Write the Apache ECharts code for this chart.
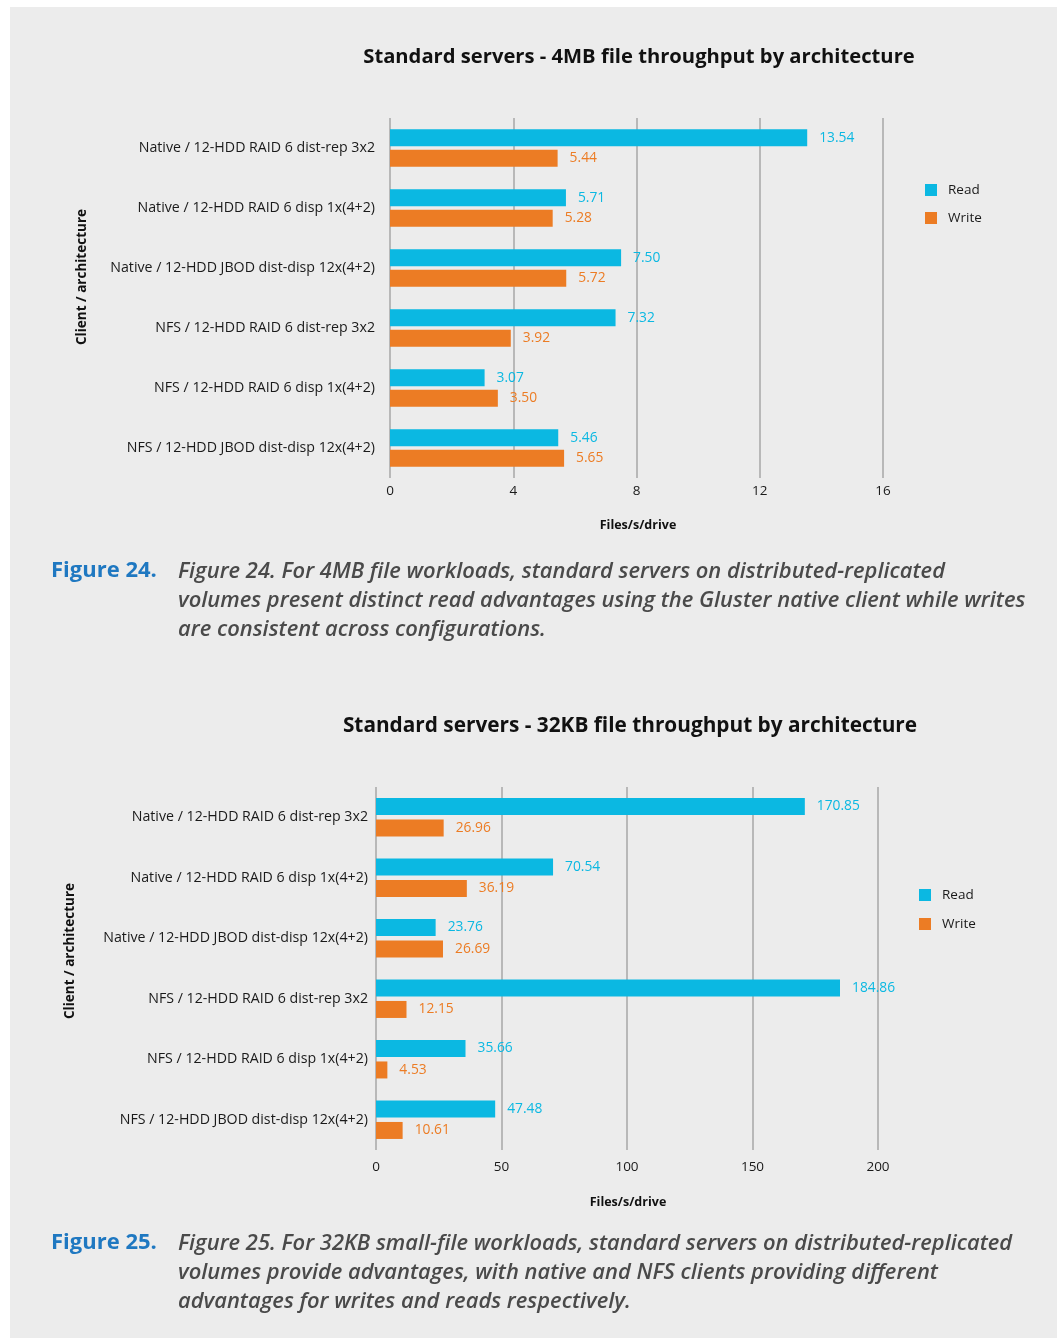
<!DOCTYPE html>
<html>
<head>
<meta charset="utf-8">
<script src="https://cdn.jsdelivr.net/npm/echarts@6/dist/echarts.min.js"></script>
<style>
html,body{margin:0;padding:0;background:#fff;}
#c{width:1057px;height:1338px;}
</style>
</head>
<body>
<div id="c"></div>
<script>
// ---- data ----
const categories = [
  'Native / 12-HDD RAID 6 dist-rep 3x2',
  'Native / 12-HDD RAID 6 disp 1x(4+2)',
  'Native / 12-HDD JBOD dist-disp 12x(4+2)',
  'NFS / 12-HDD RAID 6 dist-rep 3x2',
  'NFS / 12-HDD RAID 6 disp 1x(4+2)',
  'NFS / 12-HDD JBOD dist-disp 12x(4+2)'
];
const read4MB  = [13.54, 5.71, 7.50, 7.32, 3.07, 5.46];
const write4MB = [5.44, 5.28, 5.72, 3.92, 3.50, 5.65];
const read32KB  = [170.85, 70.54, 23.76, 184.86, 35.66, 47.48];
const write32KB = [26.96, 36.19, 26.69, 12.15, 4.53, 10.61];
const ticks4MB = [0, 4, 8, 12, 16];
const ticks32KB = [0, 50, 100, 150, 200];
const title1 = 'Standard servers - 4MB file throughput by architecture';
const title2 = 'Standard servers - 32KB file throughput by architecture';
const yName = 'Client / architecture';
const xName = 'Files/s/drive';
const fig1Label = 'Figure 24.';
const fig1Lines = [
  'Figure 24. For 4MB file workloads, standard servers on distributed-replicated',
  'volumes present distinct read advantages using the Gluster native client while writes',
  'are consistent across configurations.'
];
const fig2Label = 'Figure 25.';
const fig2Lines = [
  'Figure 25. For 32KB small-file workloads, standard servers on distributed-replicated',
  'volumes provide advantages, with native and NFS clients providing different',
  'advantages for writes and reads respectively.'
];

// ---- style ----
const READ = '#0bb8e2', WRITE = '#ec7c24', GRID = '#b8b8b8', BG = '#ececec';
const FONT = '"Open Sans", "Noto Sans", sans-serif';
const CAPFONT_CSS = 'italic 600 22px "Open Sans", "Noto Sans", sans-serif';

// condense caption font horizontally to match the narrow face of the original
const mctx = document.createElement('canvas').getContext('2d');
mctx.font = CAPFONT_CSS;
const capScale = 767 / mctx.measureText(fig1Lines[0]).width;

const chart = echarts.init(document.getElementById('c'), null, {renderer:'canvas'});

function xAxis(gi, t, margin){
  return {
    gridIndex: gi, type: 'value', min: t[0], max: t[t.length-1], interval: t[1]-t[0],
    axisLine:{show:false}, axisTick:{show:false},
    axisLabel:{color:'#1a1a1a', fontSize:13.5, fontFamily:FONT, margin:margin},
    splitLine:{show:true, lineStyle:{color:GRID, width:2}}
  };
}
function yAxis(gi, margin){
  return {
    gridIndex: gi, type:'category', data: categories, inverse:true,
    axisLine:{show:false}, axisTick:{show:false},
    axisLabel:{color:'#1a1a1a', fontSize:14.2, fontFamily:FONT, margin:margin},
    splitLine:{show:false}
  };
}
function bar(name, data, color, gi, gap){
  return {
    name, type:'bar', data, xAxisIndex:gi, yAxisIndex:gi,
    barWidth:17, barGap:gap,
    itemStyle:{color},
    label:{show:true, position:'right', distance:12, color, fontSize:13.8, fontFamily:FONT,
      formatter: p => p.value.toFixed(2)}
  };
}
function captionEls(label, lines, y0){
  const els = [{type:'text', x:51, y:y0, style:{text:label, fill:'#1f78c1', font:'bold 22px "Open Sans", sans-serif', verticalAlign:'middle'}}];
  lines.forEach((l,i)=>{
    els.push({type:'text', x:178, y:y0+1+i*29, scaleX:capScale, style:{text:l, fill:'#4a4a4a', font:CAPFONT_CSS, verticalAlign:'middle'}});
  });
  return els;
}

const option = {
  backgroundColor: '#fff',
  animation:false,
  title:[
    {text:title1, left:634, textAlign:'center', top:42, textStyle:{fontSize:20.2, fontWeight:'bold', color:'#111', fontFamily:FONT}},
    {text:title2, left:625, textAlign:'center', top:711, textStyle:{fontSize:20.8, fontWeight:'bold', color:'#111', fontFamily:FONT}}
  ],
  legend:[
    {orient:'vertical', left:920, top:178, itemWidth:12, itemHeight:12, icon:'rect', itemGap:14,
     textStyle:{fontSize:13.5, color:'#1a1a1a', fontFamily:FONT, padding:[0,0,0,6]}, data:['Read','Write']},
    {orient:'vertical', left:914, top:883, itemWidth:12, itemHeight:12, icon:'rect', itemGap:15,
     textStyle:{fontSize:13.5, color:'#1a1a1a', fontFamily:FONT, padding:[0,0,0,6]}, data:['Read','Write']}
  ],
  grid:[
    {left:390, width:493, top:118, height:360},
    {left:376, width:502, top:787, height:363}
  ],
  xAxis:[xAxis(0, ticks4MB, 6), xAxis(1, ticks32KB, 10)],
  yAxis:[yAxis(0, 15), yAxis(1, 8)],
  series:[
    bar('Read', read4MB, READ, 0, '20%'),
    bar('Write', write4MB, WRITE, 0, '20%'),
    bar('Read', read32KB, READ, 1, '26%'),
    bar('Write', write32KB, WRITE, 1, '26%')
  ],
  graphic:{elements:[
    {type:'rect', left:10, top:7, z:-10, shape:{width:1047, height:1331}, style:{fill:BG}},
    {type:'text', x:82, y:277, rotation:Math.PI/2, style:{text:yName, fill:'#111', font:'bold 13.5px '+FONT, align:'center', verticalAlign:'middle'}},
    {type:'text', x:70, y:951, rotation:Math.PI/2, style:{text:yName, fill:'#111', font:'bold 13.5px '+FONT, align:'center', verticalAlign:'middle'}},
    {type:'text', x:638, y:525, style:{text:xName, fill:'#111', font:'bold 12.5px '+FONT, align:'center', verticalAlign:'middle'}},
    {type:'text', x:628, y:1202, style:{text:xName, fill:'#111', font:'bold 12.5px '+FONT, align:'center', verticalAlign:'middle'}},
    ...captionEls(fig1Label, fig1Lines, 571),
    ...captionEls(fig2Label, fig2Lines, 1243)
  ]}
};
chart.setOption(option);
</script>
</body>
</html>
